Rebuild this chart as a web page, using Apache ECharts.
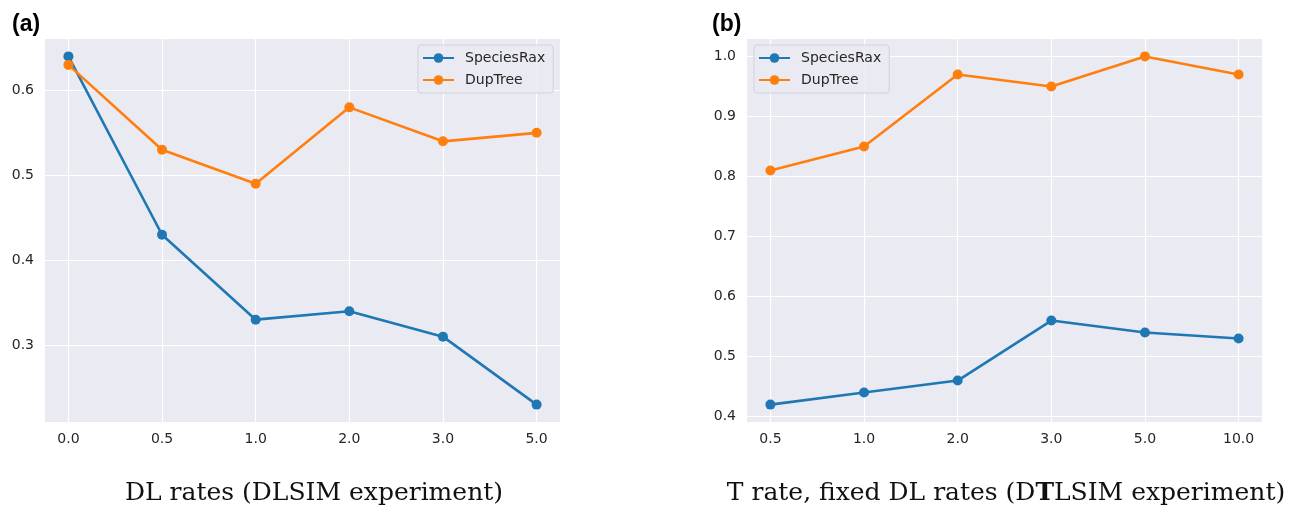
<!DOCTYPE html>
<html>
<head>
<meta charset="utf-8">
<script src="https://cdn.jsdelivr.net/npm/echarts@6/dist/echarts.min.js"></script>
<style>
  html, body { margin: 0; padding: 0; background: #fff; }
  #chart { width: 1300px; height: 508px; }
</style>
</head>
<body>
<div id="chart"></div>
<script>
// panel (a): DL rates
const dlRates = ['0.0', '0.5', '1.0', '2.0', '3.0', '5.0']
const dlSpeciesRax = [0.64, 0.43, 0.33, 0.34, 0.31, 0.23]
const dlDupTree = [0.63, 0.53, 0.49, 0.58, 0.54, 0.55]
const dlTicks = [0.3, 0.4, 0.5, 0.6]

// panel (b): T rate
const tRates = ['0.5', '1.0', '2.0', '3.0', '5.0', '10.0']
const tSpeciesRax = [0.42, 0.44, 0.46, 0.56, 0.54, 0.53]
const tDupTree = [0.81, 0.85, 0.97, 0.95, 1.00, 0.97]
const tTicks = [0.4, 0.5, 0.6, 0.7, 0.8, 0.9, 1.0]

const BLUE = '#1f77b4'
const ORANGE = '#ff7f0e'
const TXT = '#262626'
const idx = [0, 1, 2, 3, 4, 5]

const chart = echarts.init(document.getElementById('chart'))

const xAxisFor = (labels, gridIndex) => ({
  type: 'value',
  gridIndex,
  min: -0.25,
  max: 5.25,
  axisLine: { show: false },
  axisTick: { show: false, customValues: idx },
  axisLabel: {
    customValues: idx,
    formatter: v => labels[Math.round(v)],
    color: TXT,
    fontFamily: 'DejaVu Sans',
    fontSize: 14,
    margin: 10
  },
  splitLine: { show: true, lineStyle: { color: '#fff', width: 1.2 } }
})

const yAxisFor = (ticks, min, max, gridIndex) => ({
  type: 'value',
  gridIndex,
  min,
  max,
  axisLine: { show: false },
  axisTick: { show: false, customValues: ticks },
  axisLabel: {
    customValues: ticks,
    formatter: v => v.toFixed(1),
    color: TXT,
    fontFamily: 'DejaVu Sans',
    fontSize: 14,
    margin: 11
  },
  splitLine: { show: true, lineStyle: { color: '#fff', width: 1.2 } }
})

const lineSeries = (name, color, values, gi) => ({
  name,
  type: 'line',
  xAxisIndex: gi,
  yAxisIndex: gi,
  data: values.map((v, i) => [i, v]),
  symbol: 'circle',
  symbolSize: 10,
  showSymbol: true,
  lineStyle: { color, width: 2.6 },
  itemStyle: { color },
  emphasis: { disabled: true },
  animation: false
})

const legendFor = (left) => ({
  left,
  top: 45,
  orient: 'vertical',
  data: ['SpeciesRax', 'DupTree'],
  itemWidth: 31,
  itemHeight: 12,
  itemGap: 8,
  padding: [6, 8, 6, 4],
  backgroundColor: 'rgba(234,234,242,0.85)',
  borderColor: '#d2d2da',
  borderWidth: 1,
  borderRadius: 3,
  textStyle: { color: TXT, fontFamily: 'DejaVu Sans', fontSize: 14, padding: [0, 0, 0, 6] }
})

chart.setOption({
  animation: false,
  grid: [
    { left: 45, top: 39, width: 515, height: 383, show: true, backgroundColor: '#eaeaf2', borderWidth: 0 },
    { left: 747, top: 39, width: 515, height: 383, show: true, backgroundColor: '#eaeaf2', borderWidth: 0 }
  ],
  xAxis: [xAxisFor(dlRates, 0), xAxisFor(tRates, 1)],
  yAxis: [yAxisFor(dlTicks, 0.2095, 0.6605, 0), yAxisFor(tTicks, 0.391, 1.029, 1)],
  legend: [legendFor(418), legendFor(754)],
  title: [
    { text: '(a)', left: 7, top: 8, textStyle: { fontFamily: 'Liberation Sans', fontWeight: 'bold', fontSize: 23, color: '#000' } },
    { text: '(b)', left: 707, top: 8, textStyle: { fontFamily: 'Liberation Sans', fontWeight: 'bold', fontSize: 23, color: '#000' } },
    {
      text: 'DL rates (DLSIM experiment)',
      left: 314, top: 481, textAlign: 'center', padding: 0,
      textStyle: { fontFamily: 'DejaVu Serif', fontWeight: 'normal', fontSize: 25, color: '#111' }
    },
    {
      text: '{n|T rate, fixed DL rates (D}{b|T}{n|LSIM experiment)}',
      left: 1006, top: 481, textAlign: 'center', padding: 0,
      textStyle: {
        fontWeight: 'normal',
        rich: {
          n: { fontFamily: 'DejaVu Serif', fontSize: 25, fontWeight: 'normal', color: '#111' },
          b: { fontFamily: 'DejaVu Serif', fontSize: 25, fontWeight: 'bold', color: '#111' }
        }
      }
    }
  ],
  series: [
    lineSeries('SpeciesRax', BLUE, dlSpeciesRax, 0),
    lineSeries('DupTree', ORANGE, dlDupTree, 0),
    lineSeries('SpeciesRax', BLUE, tSpeciesRax, 1),
    lineSeries('DupTree', ORANGE, tDupTree, 1)
  ]
})
</script>
</body>
</html>
